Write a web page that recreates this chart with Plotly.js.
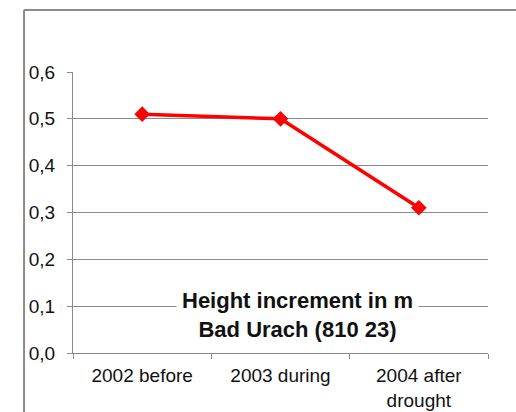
<!DOCTYPE html>
<html>
<head>
<meta charset="utf-8">
<script src="https://cdn.plot.ly/plotly-3.0.1.min.js"></script>
<style>
  html, body { margin: 0; padding: 0; background: #fff; }
  #chart { width: 516px; height: 412px; }
</style>
</head>
<body>
<div id="chart"></div>
<script>
// Height increment per year, Bad Urach plot (810 23)
const categories = ["2002 before", "2003 during", "2004 after<br>drought"];
const heightIncrement = [0.51, 0.50, 0.31];
const yTicks = [0, 0.1, 0.2, 0.3, 0.4, 0.5, 0.6];

const gray = "#8a8a8a";
const font = { family: "Arial, 'Liberation Sans', sans-serif", size: 19, color: "#111" };

const trace = {
  type: "scatter",
  mode: "lines+markers",
  x: categories,
  y: heightIncrement,
  line: { color: "#ff0000", width: 3.5 },
  marker: { symbol: "diamond", size: 12, color: "#ff0000" },
  hoverinfo: "skip"
};

const layout = {
  width: 516,
  height: 412,
  margin: { l: 73, r: 28, t: 72, b: 59 },
  paper_bgcolor: "#fff",
  plot_bgcolor: "#fff",
  separators: ",.",
  showlegend: false,
  font: font,
  xaxis: {
    type: "category",
    range: [-0.5, 2.5],
    tickson: "boundaries",
    ticks: "outside",
    ticklen: 5,
    tickcolor: gray,
    ticklabelstandoff: 5,
    showline: true,
    linecolor: gray,
    linewidth: 1,
    showgrid: false,
    zeroline: false,
    tickfont: font,
    fixedrange: true
  },
  yaxis: {
    range: [0, 0.6],
    tickvals: yTicks,
    tickformat: ".1f",
    ticks: "outside",
    ticklen: 5,
    tickcolor: gray,
    ticklabelstandoff: 8,
    showline: true,
    linecolor: gray,
    linewidth: 1,
    showgrid: true,
    gridcolor: gray,
    gridwidth: 1,
    zeroline: false,
    tickfont: font,
    fixedrange: true
  },
  annotations: [{
    xref: "paper", yref: "paper",
    x: 0.54, y: 0.135,
    xanchor: "center", yanchor: "middle",
    text: "<b>Height increment in m<br>Bad Urach (810 23)</b>",
    showarrow: false,
    bgcolor: "#fff",
    borderpad: 5,
    font: { family: font.family, size: 22, color: "#111" }
  }],
  shapes: [
    // chart area frame (left and top edges)
    { type: "line", xref: "paper", yref: "paper", x0: -0.118, x1: -0.118, y0: -0.3, y1: 1.2206,
      line: { color: gray, width: 2 } },
    { type: "line", xref: "paper", yref: "paper", x0: -0.118, x1: 1.2, y0: 1.2206, y1: 1.2206,
      line: { color: gray, width: 2 } }
  ]
};

Plotly.newPlot("chart", [trace], layout, { staticPlot: true, displayModeBar: false });
</script>
</body>
</html>
